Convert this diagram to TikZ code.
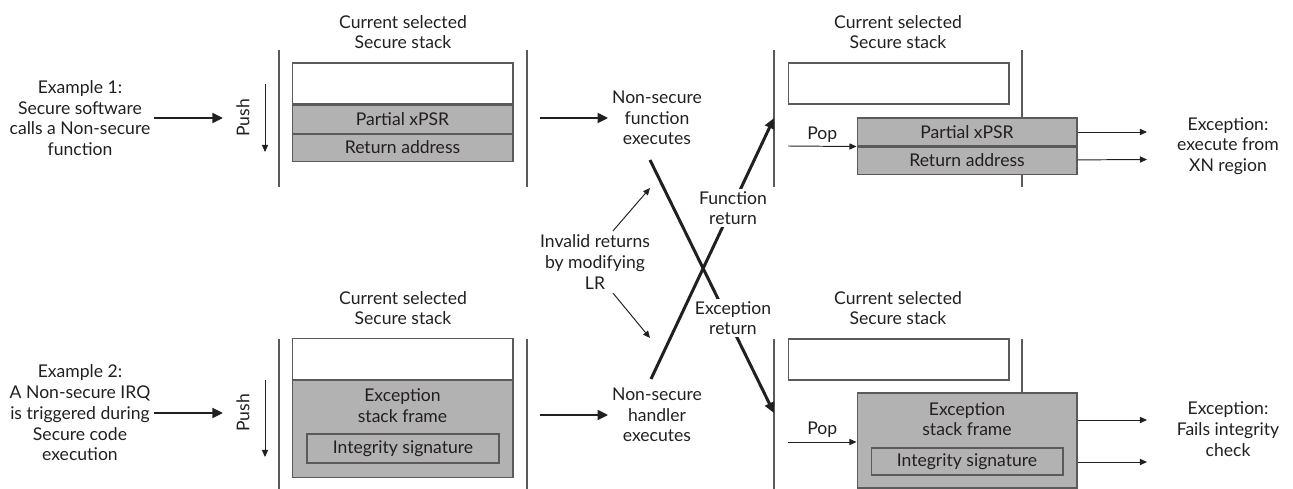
\documentclass[tikz,border=0pt]{standalone}
\usepackage{fontspec}
\setmainfont{Lato}
\usetikzlibrary{arrows.meta}
\definecolor{boxgray}{HTML}{B2B2B2}
\definecolor{edgegray}{HTML}{5A5A5A}
\definecolor{ink}{HTML}{231F20}

\begin{document}
\begin{tikzpicture}[x=0.02cm, y=-0.02cm, ink,
    txt/.style={align=center, font=\fontsize{10}{11.8}\selectfont, inner sep=2pt, text=ink},
    lbl/.style={txt, fill=white, inner sep=1pt},
    wbox/.style={draw=edgegray, fill=white, line width=0.6pt, minimum width=4.42cm, minimum height=0.82cm, inner sep=0pt},
    gbox/.style={txt, draw=edgegray, fill=boxgray, line width=0.6pt, minimum width=4.42cm, inner sep=0pt},
    wall/.style={draw=edgegray, line width=0.6pt},
    thk/.style={-{Triangle[length=6pt, width=5.5pt]}, line width=1.7pt},
    thn/.style={-{Triangle[length=4pt, width=3.5pt]}, line width=0.55pt}]
    \useasboundingbox (0,0) rectangle (1293,489);

    % walls of the four stacks
    \foreach \x in {279,527,774,1022} {
        \draw[wall] (\x,50) -- (\x,187);
        \draw[wall] (\x,339) -- (\x,489);
    }

    % example 1
    \node[txt] (ex1) at (80,118) {Example 1:\\Secure software\\calls a Non-secure\\function};
    \node[txt, rotate=90] (push1) at (243,118) {Push};
    \coordinate (in1) at (223,118);
    \coordinate (pa1) at (265,84);
    \coordinate (pb1) at (265,152);

    \node[txt] (ttl1) at (403,32) {Current selected\\Secure stack};
    \node[wbox] (free1) at (402.5,83.5) {};
    \node[gbox, anchor=north, minimum height=0.56cm] (xpsr1) at (free1.south) {Partial xPSR};
    \node[gbox, anchor=north, minimum height=0.54cm] (ret1) at (xpsr1.south) {Return address};

    % example 2
    \node[txt] (ex2) at (80,413) {Example 2:\\A Non-secure IRQ\\is triggered during\\Secure code\\execution};
    \node[txt, rotate=90] (push2) at (243,413) {Push};
    \coordinate (in2) at (223,413);
    \coordinate (pa2) at (265,380);
    \coordinate (pb2) at (265,457);

    \node[txt] (ttl2) at (403,308) {Current selected\\Secure stack};
    \node[wbox] (free2) at (402.5,359) {};
    \node[gbox, anchor=north, minimum height=1.94cm] (frm1) at (free2.south) {};
    \node[txt] (exc1) at (402.5,405.5) {Exception\\stack frame};
    \node[gbox, minimum width=3.84cm, minimum height=0.58cm] (sig1) at (403,448.5) {Integrity signature};

    % middle
    \node[txt] (nsf) at (657,118) {Non-secure\\function\\executes};
    \node[txt] (nsh) at (657,415) {Non-secure\\handler\\executes};
    \node[txt] (inv) at (595,262) {Invalid returns\\by modifying\\LR};
    \coordinate (out1) at (540,118);
    \coordinate (out2) at (540,415);
    \coordinate (fa) at (650,160);
    \coordinate (fb) at (774,413);
    \coordinate (ha) at (651,379);
    \coordinate (hb) at (774,118);
    \coordinate (ia) at (650,188);
    \coordinate (ib) at (650,338);

    % right top
    \node[txt] (ttl3) at (898,32) {Current selected\\Secure stack};
    \node[wbox] (free3) at (898.5,83.5) {};
    \node[gbox, minimum width=4.4cm, minimum height=0.56cm] (xpsr2) at (967,132) {Partial xPSR};
    \node[gbox, anchor=north, minimum width=4.4cm, minimum height=0.54cm] (ret2) at (xpsr2.south) {Return address};
    \node[txt] (xn) at (1228,146) {Exception:\\execute from\\XN region};
    \coordinate (pop1) at (788,146);
    \coordinate (o1) at (1147,132);
    \coordinate (o2) at (1147,159.5);

    % right bottom
    \node[txt] (ttl4) at (898,308) {Current selected\\Secure stack};
    \node[wbox] (free4) at (898.5,359.5) {};
    \node[gbox, minimum width=4.4cm, minimum height=1.9cm] (frm2) at (967,440.5) {};
    \node[txt] (exc2) at (967,419) {Exception\\stack frame};
    \node[gbox, minimum width=3.84cm, minimum height=0.54cm] (sig2) at (967,461.5) {Integrity signature};
    \node[txt] (fic) at (1228,429) {Exception:\\Fails integrity\\check};
    \coordinate (pop2) at (788,442);
    \coordinate (o3) at (1147,420);
    \coordinate (o4) at (1147,462);

    % arrows
    \draw[thk] (ex1) -- (in1);
    \draw[thk] (ex2) -- (in2);
    \draw[thn] (pa1) -- (pb1);
    \draw[thn] (pa2) -- (pb2);
    \draw[thk] (out1) -- (nsf);
    \draw[thk] (out2) -- (nsh);
    \draw[thk] (fa) -- (fb);
    \draw[thk] (ha) -- (hb);
    \draw[thn] (inv.60) -- (ia);
    \draw[thn] (inv.-60) -- (ib);
    \node[lbl] (fret) at (733,208) {Function\\return};
    \node[lbl] (eret) at (733,318) {Exception\\return};

    \draw[thn] (pop1) -- node[txt, above] (popl1) {Pop} (ret2.north west);
    \draw[thn] (pop2) -- node[txt, above] (popl2) {Pop} (pop2 -| frm2.west);
    \draw[thn] (xpsr2) -- (o1);
    \draw[thn] (ret2) -- (o2);
    \draw[thn] (o3 -| frm2.east) -- (o3);
    \draw[thn] (o4 -| frm2.east) -- (o4);
\end{tikzpicture}
\end{document}
